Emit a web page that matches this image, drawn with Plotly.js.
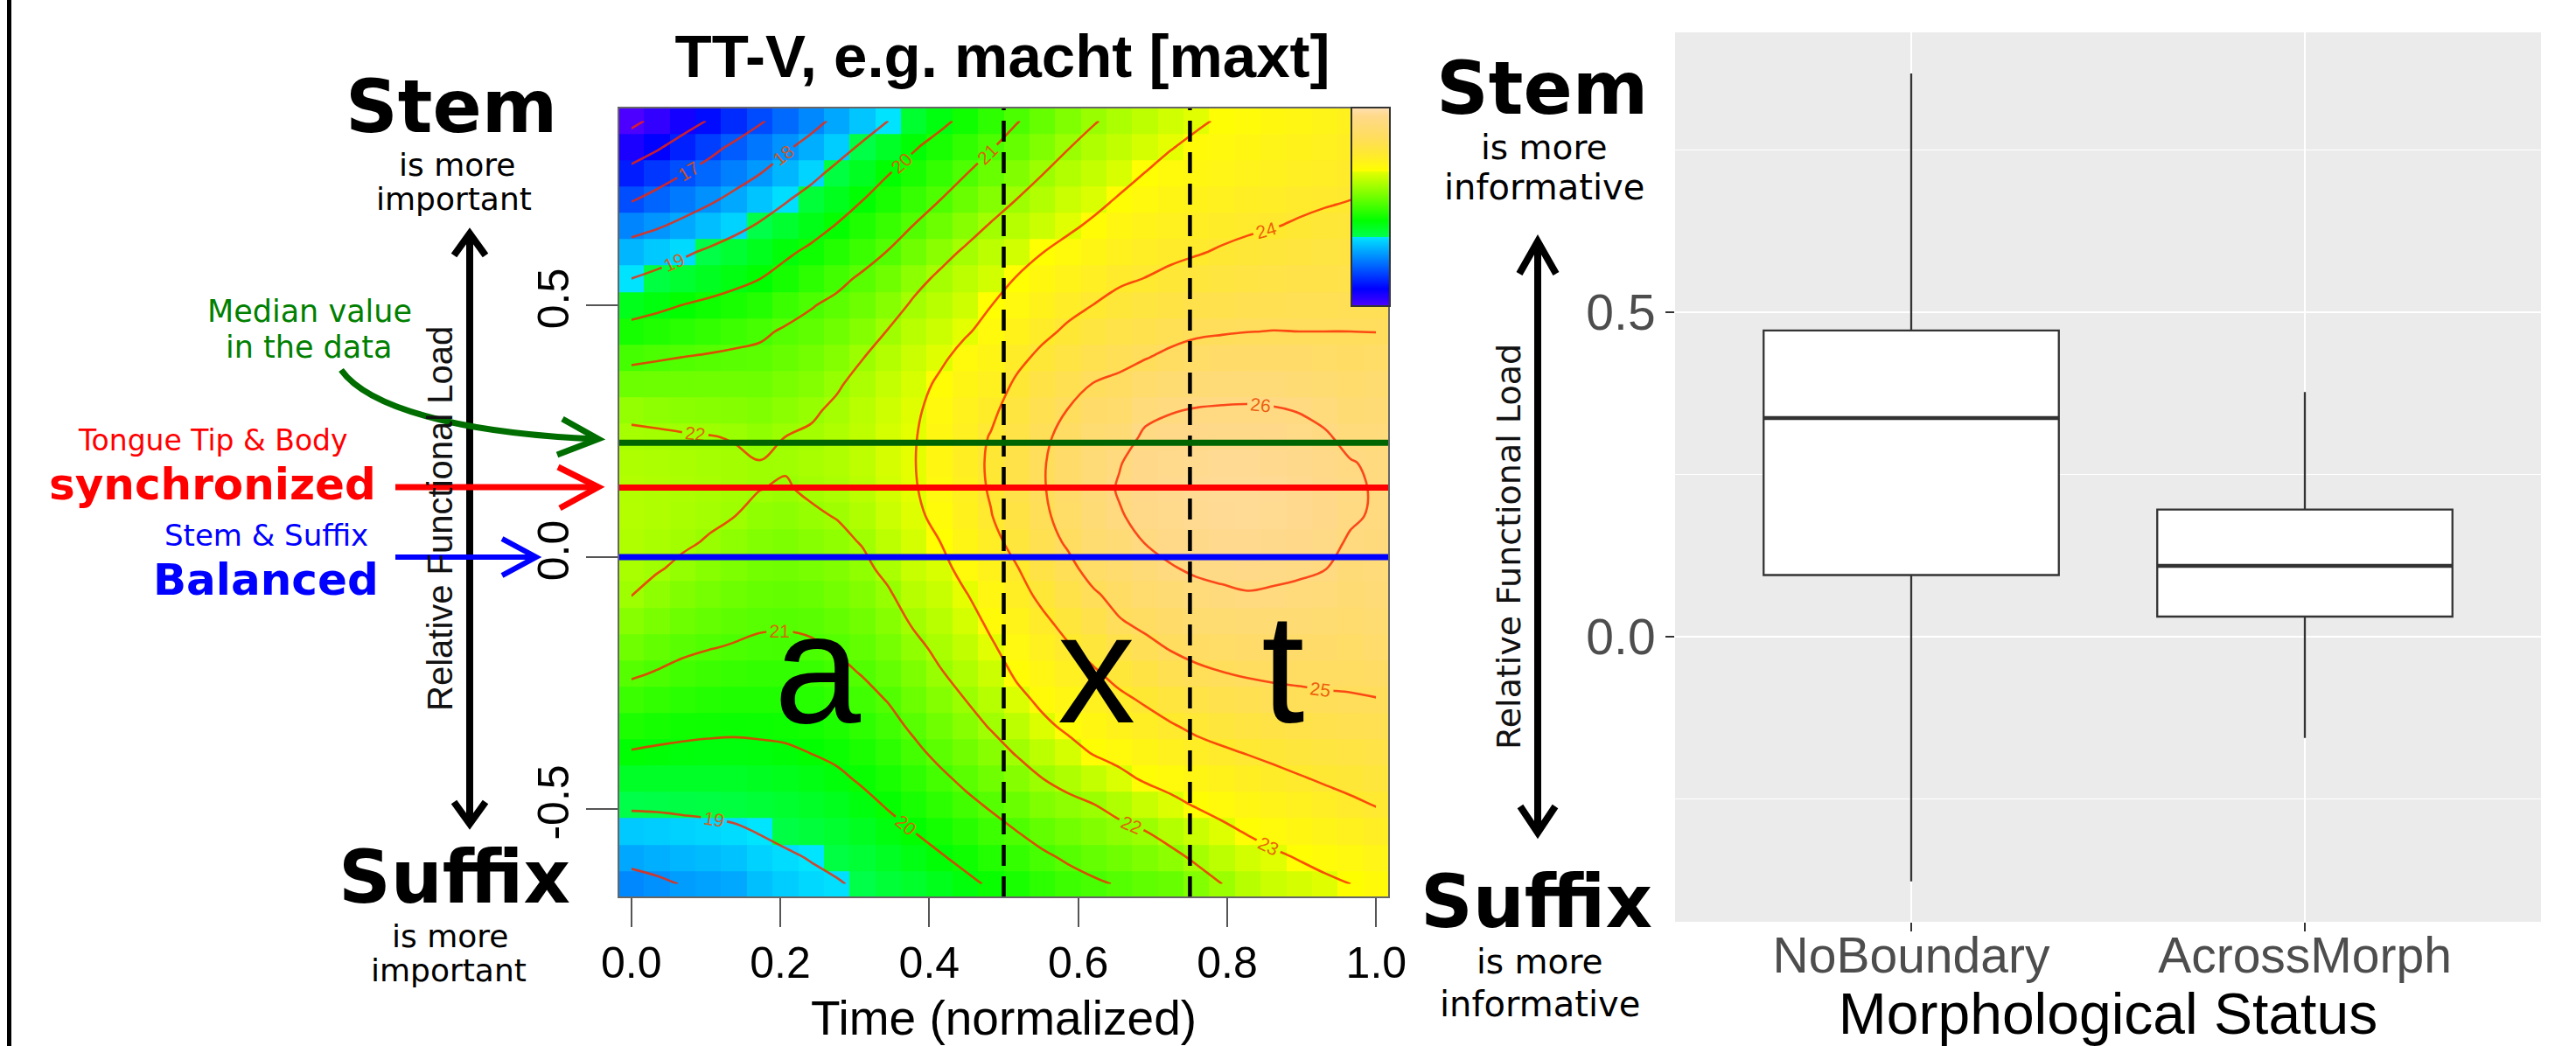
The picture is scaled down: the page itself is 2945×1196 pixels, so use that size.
<!DOCTYPE html>
<html><head><meta charset="utf-8">
<script src="https://cdn.plot.ly/plotly-3.0.1.min.js"></script>
<style>html,body{margin:0;padding:0;background:#fff}#chart{width:2945px;height:1196px}</style>
</head><body><div id="chart"></div>
<script>
// ---------- data ----------
const timeGrid = [0,0.0345,0.069,0.1034,0.1379,0.1724,0.2069,0.2414,0.2759,0.3103,0.3448,0.3793,0.4138,0.4483,0.4828,0.5172,0.5517,0.5862,0.6207,0.6552,0.6897,0.7241,0.7586,0.7931,0.8276,0.8621,0.8966,0.931,0.9655,1];
const loadGrid = [-0.649,-0.597,-0.545,-0.492,-0.44,-0.388,-0.336,-0.283,-0.231,-0.179,-0.127,-0.074,-0.022,0.03,0.082,0.135,0.187,0.239,0.291,0.344,0.396,0.448,0.5,0.553,0.605,0.657,0.709,0.762,0.814,0.866];
const surfaceZ = [
[17.75,17.87,18.03,18.1,18.2,18.5,18.7,18.85,18.95,19.1,19.3,19.45,19.65,19.85,20.08,20.3,20.55,20.75,20.9,21.05,21.2,21.3,21.65,22.0,22.35,22.6,22.75,22.88,23.0,23.15],
[18.18,18.29,18.4,18.46,18.55,18.77,18.91,19.03,19.16,19.33,19.55,19.75,19.93,20.16,20.42,20.65,20.88,21.08,21.27,21.42,21.59,21.78,22.12,22.42,22.7,22.89,23.03,23.17,23.3,23.44],
[18.65,18.7,18.77,18.83,18.9,19.03,19.15,19.27,19.4,19.58,19.8,20.0,20.23,20.49,20.75,20.99,21.24,21.44,21.63,21.79,21.98,22.3,22.59,22.85,23.05,23.2,23.34,23.47,23.6,23.73],
[19.1,19.11,19.14,19.17,19.22,19.31,19.4,19.52,19.64,19.83,20.05,20.28,20.55,20.83,21.08,21.34,21.62,21.81,21.98,22.25,22.56,22.83,23.05,23.22,23.37,23.51,23.65,23.77,23.9,24.02],
[19.52,19.5,19.5,19.5,19.52,19.59,19.65,19.76,19.88,20.08,20.29,20.56,20.86,21.14,21.4,21.69,21.99,22.23,22.53,22.82,23.08,23.24,23.41,23.56,23.69,23.82,23.95,24.07,24.17,24.26],
[19.96,19.9,19.86,19.83,19.83,19.87,19.91,20.01,20.13,20.32,20.55,20.85,21.16,21.43,21.73,22.05,22.42,22.74,23.05,23.23,23.41,23.6,23.77,23.91,24.03,24.15,24.26,24.35,24.43,24.5],
[20.34,20.26,20.19,20.15,20.12,20.13,20.16,20.23,20.36,20.56,20.79,21.11,21.42,21.72,22.05,22.42,22.84,23.13,23.34,23.55,23.74,23.94,24.13,24.26,24.38,24.48,24.56,24.63,24.69,24.74],
[20.72,20.61,20.51,20.44,20.4,20.38,20.39,20.46,20.6,20.79,21.03,21.35,21.68,22.0,22.33,22.8,23.15,23.4,23.63,23.86,24.08,24.31,24.5,24.62,24.72,24.8,24.86,24.91,24.95,24.98],
[21.08,20.96,20.83,20.74,20.68,20.63,20.63,20.69,20.83,21.03,21.26,21.59,21.94,22.24,22.62,23.1,23.39,23.67,23.91,24.21,24.45,24.69,24.87,24.98,25.06,25.11,25.13,25.15,25.13,25.21],
[21.4,21.25,21.12,21.03,20.96,20.88,20.87,20.92,21.06,21.23,21.48,21.83,22.16,22.48,22.91,23.31,23.63,23.94,24.24,24.59,24.83,25.05,25.2,25.29,25.36,25.38,25.38,25.36,25.29,25.41],
[21.72,21.53,21.38,21.26,21.18,21.1,21.08,21.13,21.25,21.43,21.7,22.09,22.37,22.72,23.14,23.53,23.87,24.23,24.58,24.96,25.16,25.35,25.51,25.59,25.66,25.66,25.63,25.58,25.45,25.58],
[22.02,21.81,21.63,21.49,21.38,21.28,21.25,21.32,21.45,21.63,21.92,22.35,22.57,22.96,23.35,23.75,24.16,24.53,24.92,25.22,25.45,25.66,25.82,25.9,25.97,25.93,25.87,25.8,25.61,25.72],
[22.16,22.05,21.89,21.72,21.59,21.47,21.43,21.52,21.64,21.84,22.18,22.57,22.78,23.22,23.55,23.96,24.47,24.82,25.26,25.46,25.74,25.96,26.09,26.16,26.19,26.15,26.1,26.02,25.77,25.82],
[22.25,22.17,22.08,21.96,21.8,21.65,21.6,21.72,21.83,22.04,22.42,22.74,22.99,23.42,23.76,24.25,24.71,25.09,25.52,25.7,26.02,26.18,26.27,26.33,26.35,26.3,26.25,26.16,25.94,25.9],
[22.3,22.24,22.17,22.1,22.01,21.84,21.78,21.91,22.03,22.25,22.59,22.86,23.17,23.57,23.97,24.46,24.86,25.27,25.68,25.95,26.18,26.31,26.37,26.42,26.43,26.38,26.33,26.23,26.07,25.94],
[22.29,22.25,22.2,22.15,22.09,22.01,21.95,22.09,22.18,22.38,22.7,22.94,23.3,23.66,24.07,24.55,24.94,25.34,25.75,26.05,26.25,26.35,26.4,26.45,26.45,26.4,26.35,26.25,26.1,25.95],
[22.23,22.2,22.16,22.12,22.09,22.02,22.05,22.15,22.25,22.44,22.75,22.97,23.35,23.7,24.1,24.57,24.94,25.33,25.72,25.97,26.23,26.31,26.36,26.4,26.4,26.35,26.3,26.19,26.03,25.92],
[22.11,22.09,22.05,22.02,21.97,21.83,22.0,22.09,22.23,22.44,22.73,22.95,23.33,23.68,24.04,24.5,24.86,25.22,25.58,25.67,26.11,26.19,26.23,26.27,26.27,26.23,26.17,26.07,25.83,25.83],
[21.87,21.81,21.76,21.72,21.69,21.61,21.77,21.91,22.12,22.36,22.65,22.88,23.25,23.59,23.85,24.34,24.7,25.02,25.35,25.4,25.82,25.97,26.04,26.07,26.08,26.05,25.98,25.84,25.62,25.69],
[21.37,21.38,21.39,21.4,21.41,21.39,21.54,21.68,21.92,22.21,22.51,22.76,23.1,23.43,23.63,24.1,24.47,24.72,25.02,25.13,25.39,25.55,25.67,25.72,25.75,25.72,25.65,25.56,25.41,25.51],
[20.85,20.94,21.01,21.07,21.13,21.16,21.3,21.45,21.67,21.98,22.3,22.59,22.88,23.21,23.42,23.82,24.16,24.42,24.68,24.83,24.97,25.14,25.27,25.33,25.37,25.36,25.33,25.28,25.21,25.27],
[20.27,20.4,20.51,20.63,20.75,20.88,21.08,21.21,21.41,21.68,22.03,22.37,22.62,22.93,23.2,23.56,23.84,24.11,24.34,24.52,24.65,24.79,24.9,24.95,24.99,25.01,25.0,25.0,25.0,24.99],
[19.66,19.83,20.01,20.15,20.29,20.43,20.71,20.96,21.15,21.38,21.7,22.1,22.37,22.65,22.99,23.3,23.56,23.81,24.01,24.2,24.33,24.46,24.58,24.65,24.71,24.75,24.77,24.79,24.8,24.81],
[19.0,19.19,19.39,19.59,19.79,19.99,20.26,20.54,20.83,21.1,21.4,21.78,22.12,22.4,22.7,23.03,23.28,23.51,23.71,23.9,24.01,24.14,24.26,24.35,24.44,24.49,24.53,24.57,24.6,24.63],
[18.4,18.64,18.88,19.12,19.37,19.63,19.88,20.15,20.45,20.73,21.03,21.4,21.76,22.1,22.4,22.7,22.99,23.21,23.42,23.62,23.77,23.87,23.96,24.06,24.16,24.24,24.3,24.36,24.4,24.45],
[17.7,17.92,18.2,18.49,18.78,19.09,19.4,19.72,20.04,20.37,20.69,21.02,21.37,21.71,22.06,22.32,22.59,22.89,23.11,23.33,23.51,23.64,23.75,23.84,23.91,23.98,24.06,24.14,24.2,24.26],
[16.95,17.26,17.57,17.87,18.2,18.58,18.94,19.29,19.64,19.99,20.32,20.66,20.99,21.33,21.67,22.01,22.27,22.59,22.82,23.06,23.26,23.42,23.55,23.65,23.73,23.81,23.88,23.94,24.0,24.08],
[16.27,16.62,16.97,17.31,17.64,17.98,18.38,18.79,19.2,19.59,19.97,20.31,20.64,20.97,21.31,21.64,21.98,22.28,22.53,22.77,23.01,23.2,23.34,23.45,23.54,23.63,23.71,23.79,23.87,23.93],
[15.5,15.9,16.33,16.74,17.14,17.51,17.88,18.27,18.7,19.11,19.51,19.93,20.28,20.61,20.95,21.29,21.62,21.97,22.24,22.49,22.73,22.97,23.14,23.26,23.36,23.46,23.55,23.64,23.73,23.82],
[14.8,15.2,15.63,16.04,16.47,16.91,17.33,17.74,18.17,18.59,19.0,19.41,19.81,20.19,20.58,20.96,21.29,21.62,21.95,22.2,22.44,22.67,22.91,23.07,23.17,23.28,23.38,23.49,23.6,23.7]
];
const contourStart = 15, contourEnd = 26, contourStep = 1;
const colorMin = 14.85, colorMax = 26.8;
const segmentEdges = [0, 0.5, 0.75, 1.0];
const segmentLabels = ['a', 'x', 't'];
const referenceLevels = [0.227, 0.138, 0.0];
const referenceColors = ['#006400', '#FF0000', '#0000FF'];
const heatTicksX = [0, 0.2, 0.4, 0.6, 0.8, 1.0];
const heatTickTextX = ['0.0', '0.2', '0.4', '0.6', '0.8', '1.0'];
const heatTicksY = [-0.5, 0, 0.5];
const heatTickTextY = ['-0.5', '0.0', '0.5'];

const categories = ['NoBoundary', 'AcrossMorph'];
const boxLower  = [-0.377, -0.156];
const boxQ1     = [0.095, 0.031];
const boxMedian = [0.337, 0.109];
const boxQ3     = [0.472, 0.196];
const boxUpper  = [0.868, 0.377];
const boxTicksY = [0, 0.5];
const boxTickTextY = ['0.0', '0.5'];
const boxMinorY = [-0.25, 0.25, 0.75];

// ---------- helpers ----------
const W = 2945, H = 1196;
const PX = x => x / W, PY = y => 1 - y / H;
const SANS = 'Liberation Sans, Arial, sans-serif';
const DJV = 'DejaVu Sans, Verdana, sans-serif';
function poly(pts) { return pts.map((p, i) => (i ? 'L' : 'M') + PX(p[0]).toFixed(5) + ',' + PY(p[1]).toFixed(5)).join(' '); }
function cubic(a, b, c, d) { return 'M' + PX(a[0]) + ',' + PY(a[1]) + ' C' + PX(b[0]) + ',' + PY(b[1]) + ' ' + PX(c[0]) + ',' + PY(c[1]) + ' ' + PX(d[0]) + ',' + PY(d[1]); }
function pathShape(path, color, width) { return { type: 'path', xref: 'paper', yref: 'paper', path: path, line: { color: color, width: width }, layer: 'above' }; }
function txt(text, x, y, size, color, family, angle) {
  return { text: text, x: PX(x), y: PY(y), xref: 'paper', yref: 'paper', xanchor: 'center', yanchor: 'middle',
    showarrow: false, textangle: angle || 0, font: { size: size, color: color || '#000', family: family || DJV } };
}

const topo = [
  [0, '#4C00FF'], [0.087, '#0000FF'], [0.233, '#0080FF'], [0.3499, '#00E5FF'],
  [0.35, '#00FF4D'], [0.43, '#00FF00'], [0.5667, '#80FF00'], [0.6799, '#E6FF00'],
  [0.68, '#FFFF00'], [0.76, '#FFEA2D'], [0.84, '#FFDE59'], [0.96, '#FFD98C'], [1, '#FFE0B3']
];

// ---------- traces ----------
const heat = {
  type: 'heatmap', x: timeGrid, y: loadGrid, z: surfaceZ, xaxis: 'x', yaxis: 'y',
  colorscale: topo, zmin: colorMin, zmax: colorMax, zsmooth: false, hoverinfo: 'skip',
  colorbar: { x: PX(1545), xanchor: 'left', y: PY(123), yanchor: 'top', len: 227, lenmode: 'pixels',
    thickness: 44, thicknessmode: 'pixels', outlinewidth: 2, outlinecolor: '#333', showticklabels: false,
    ticks: '', xpad: 0, ypad: 0, borderwidth: 0 }
};
const contour = {
  type: 'contour', x: timeGrid, y: loadGrid, z: surfaceZ, xaxis: 'x', yaxis: 'y', showscale: false, hoverinfo: 'skip',
  autocontour: false,
  contours: { coloring: 'none', start: contourStart, end: contourEnd, size: contourStep, showlabels: true,
    labelformat: '.0f', labelfont: { family: SANS, size: 21, color: 'rgba(235,80,0,0.9)' } },
  line: { color: 'rgba(250,35,0,0.8)', width: 2.6, smoothing: 1 }
};
const catPos = categories.map((c, i) => i);
const boxWidth = 0.75;
const box = {
  type: 'box', xaxis: 'x2', yaxis: 'y2', x: catPos, q1: boxQ1, median: boxMedian, q3: boxQ3,
  lowerfence: boxLower, upperfence: boxUpper, width: boxWidth, boxpoints: false, whiskerwidth: 0,
  fillcolor: '#FFFFFF', line: { color: '#333333', width: 2.3 }, hoverinfo: 'skip'
};
const medX = [], medY = [];
catPos.forEach((p, i) => { medX.push(p - boxWidth / 2, p + boxWidth / 2, null); medY.push(boxMedian[i], boxMedian[i], null); });
const medians = { type: 'scatter', mode: 'lines', xaxis: 'x2', yaxis: 'y2', x: medX, y: medY,
  line: { color: '#333333', width: 4.5 }, hoverinfo: 'skip' };

// ---------- shapes ----------
const shapes = [];
shapes.push({ type: 'rect', xref: 'paper', yref: 'paper', x0: PX(8), x1: PX(13), y0: 0, y1: 1, fillcolor: '#000', line: { width: 0 } });
segmentEdges.slice(1, -1).forEach(b => shapes.push({ type: 'line', xref: 'x', yref: 'y domain', x0: b, x1: b, y0: 0, y1: 1,
  line: { color: '#000', width: 4.5, dash: '24px,12px' }, layer: 'above' }));
referenceLevels.forEach((v, i) => shapes.push({ type: 'line', xref: 'x domain', yref: 'y', x0: 0, x1: 1, y0: v, y1: v,
  line: { color: referenceColors[i], width: 7 }, layer: 'above' }));
shapes.push({ type: 'rect', xref: 'x domain', yref: 'y domain', x0: 0, x1: 1, y0: 0, y1: 1, line: { color: '#666', width: 2 }, layer: 'above' });
shapes.push({ type: 'line', xref: 'paper', yref: 'paper', x0: PX(1545), x1: PX(1589), y0: PY(235), y1: PY(235), line: { color: '#333', width: 2.5 }, layer: 'above' });
// left double arrow
shapes.push(pathShape(poly([[537, 268], [537, 941]]), '#000', 8));
shapes.push(pathShape(poly([[519, 292], [537, 267], [555, 292]]), '#000', 8));
shapes.push(pathShape(poly([[519, 917], [537, 942], [555, 917]]), '#000', 8));
// right double arrow
shapes.push(pathShape(poly([[1758, 276], [1758, 952]]), '#000', 8));
shapes.push(pathShape(poly([[1737, 313], [1758, 276], [1779, 313]]), '#000', 8));
shapes.push(pathShape(poly([[1738, 922], [1758, 952], [1778, 922]]), '#000', 8));
// green curved arrow
shapes.push(pathShape(cubic([390, 423], [420, 465], [520, 495], [682, 502]), '#006D00', 7));
shapes.push(pathShape(poly([[643, 479], [684, 502], [637, 520]]), '#006D00', 7));
// red arrow
shapes.push(pathShape(poly([[452, 557], [680, 557]]), '#FF0000', 7));
shapes.push(pathShape(poly([[638, 534], [684, 557], [640, 581]]), '#FF0000', 7));
// blue arrow
shapes.push(pathShape(poly([[452, 637], [610, 637]]), '#0000FF', 6));
shapes.push(pathShape(poly([[574, 616], [613, 637], [574, 658]]), '#0000FF', 6));

// ---------- annotations ----------
const ann = [
  txt('<b>Stem</b>', 516, 123, 83), txt('is more', 522, 189, 36), txt('important', 519, 227, 36),
  txt('<b>Suffix</b>', 519, 1003, 83), txt('is more', 514, 1070, 36), txt('important', 513, 1109, 36),
  txt('Median value', 354, 356, 35, '#007F00'), txt('in the data', 353, 397, 35, '#007F00'),
  txt('Tongue Tip &amp; Body', 243, 504, 33, '#FF0000'), txt('<b>synchronized</b>', 243, 554, 50, '#FF0000'),
  txt('Stem &amp; Suffix', 304, 612, 34, '#0000FF'), txt('<b>Balanced</b>', 304, 663, 50, '#0000FF'),
  txt('Relative Functional Load', 503, 593, 40, '#111', SANS, -90),
  txt('<b>Stem</b>', 1763, 101, 83), txt('is more', 1765, 168, 39), txt('informative', 1765, 214, 40),
  txt('<b>Suffix</b>', 1757, 1031, 83), txt('is more', 1760, 1099, 39), txt('informative', 1760, 1148, 40),
  txt('Relative Functional Load', 1725, 625, 38, '#111', DJV, -90)
];
const letterY = -0.222;
segmentLabels.forEach((s, i) => ann.push({ text: s, x: (segmentEdges[i] + segmentEdges[i + 1]) / 2, y: letterY, xref: 'x', yref: 'y',
  xanchor: 'center', yanchor: 'middle', showarrow: false, font: { family: SANS, size: 178, color: '#000' } }));

// ---------- layout ----------
const layout = {
  width: W, height: H, margin: { l: 0, r: 0, t: 0, b: 0 }, paper_bgcolor: '#FFFFFF', plot_bgcolor: '#EBEBEB', showlegend: false,
  title: { text: '<b>TT-V, e.g. macht [maxt]</b>', x: PX(1146), xanchor: 'center', xref: 'paper', y: PY(64), yanchor: 'middle', yref: 'container',
    font: { family: SANS, size: 69, color: '#000' } },
  xaxis: { domain: [PX(707), PX(1588)], range: [-0.01724, 1.01724], anchor: 'y', tickvals: heatTicksX, ticktext: heatTickTextX,
    ticks: 'outside', ticklen: 33, tickwidth: 2, tickcolor: '#555', ticklabelstandoff: -2,
    tickfont: { family: SANS, size: 50, color: '#000' }, showgrid: false, zeroline: false, showline: false,
    title: { text: 'Time (normalized)', font: { family: SANS, size: 55, color: '#000' }, standoff: 16 } },
  yaxis: { domain: [PY(1026), PY(123)], range: [-0.6754, 0.8924], anchor: 'x', tickvals: heatTicksY, ticktext: heatTickTextY,
    tickangle: -90, ticks: 'outside', ticklen: 36, tickwidth: 2, tickcolor: '#555',
    tickfont: { family: SANS, size: 50, color: '#000' }, showgrid: false, zeroline: false, showline: false },
  xaxis2: { domain: [PX(1915), PX(2905)], range: [-0.6, 1.6], anchor: 'y2', tickvals: catPos, ticktext: categories,
    ticks: 'outside', ticklen: 10, tickwidth: 2.2, tickcolor: '#333', ticklabelstandoff: -21,
    tickfont: { family: SANS, size: 57, color: '#4D4D4D' },
    showgrid: true, gridcolor: '#FFFFFF', gridwidth: 2.6, zeroline: false, showline: false,
    title: { text: 'Morphological Status', font: { family: SANS, size: 66, color: '#000' }, standoff: 16 } },
  yaxis2: { domain: [PY(1054), PY(37)], range: [-0.4394, 0.9313], anchor: 'x2', tickvals: boxTicksY, ticktext: boxTickTextY,
    ticks: 'outside', ticklen: 10, tickwidth: 2.2, tickcolor: '#333', tickfont: { family: SANS, size: 57, color: '#4D4D4D' },
    showgrid: true, gridcolor: '#FFFFFF', gridwidth: 2.6, zeroline: false, showline: false,
    minor: { tickvals: boxMinorY, showgrid: true, gridcolor: '#FFFFFF', gridwidth: 1.3, ticks: '' } },
  shapes: shapes, annotations: ann
};

Plotly.newPlot('chart', [heat, contour, box, medians], layout, { displayModeBar: false, staticPlot: true });
</script></body></html>
